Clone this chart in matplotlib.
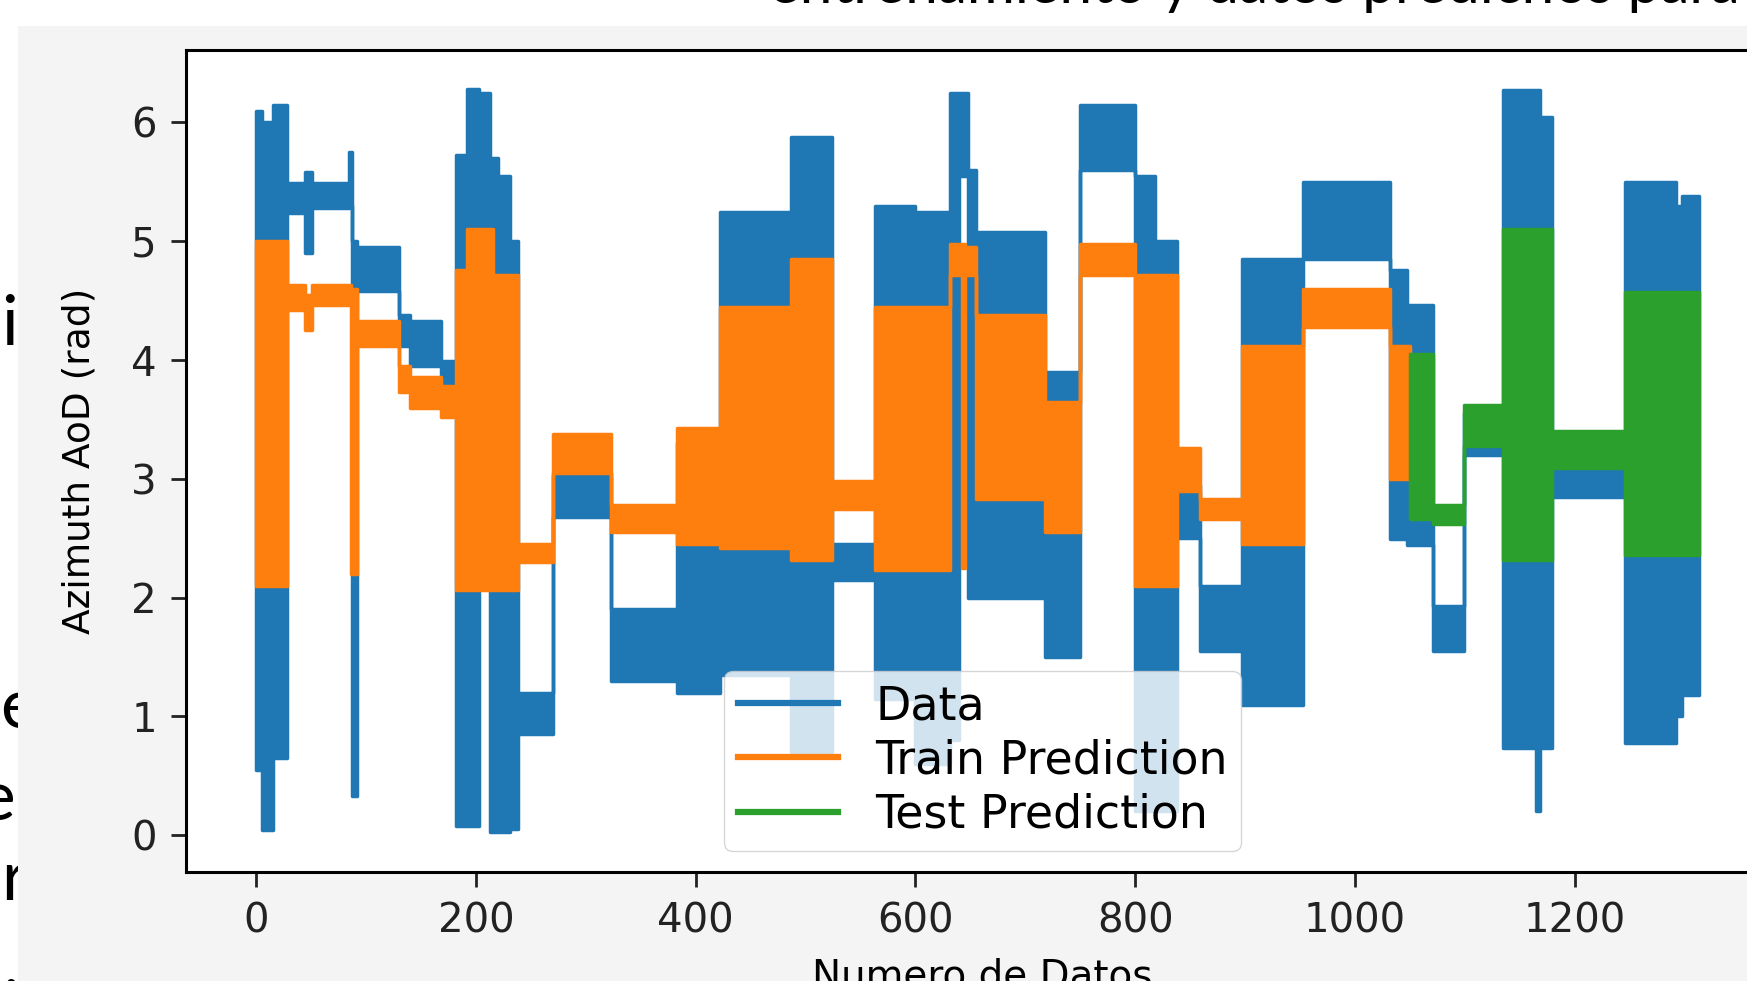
import matplotlib
matplotlib.use("Agg")
import matplotlib.pyplot as plt
from matplotlib.patches import Rectangle

W, H = 1747, 981

# envelopes: segment edges on x, then low / high value of each segment
data_x = [0, 5, 15, 28, 44, 51, 84, 87, 92, 130, 140, 168, 182, 192, 203, 213, 220, 231, 238, 270,
          323, 383, 422, 487, 524, 563, 600, 631, 640, 648, 655, 718, 750, 800, 818, 838, 859, 897,
          953, 1032, 1047, 1071, 1099, 1135, 1165, 1168, 1179, 1246, 1292, 1298, 1313]
data_lo = [0.55, 0.04, 0.65, 5.24, 4.90, 5.28, 5.30, 0.33, 4.58, 4.12, 3.95, 3.78, 0.08, 0.08, 2.40,
           0.03, 0.03, 0.05, 0.85, 2.68, 1.30, 1.20, 1.35, 0.70, 2.15, 1.15, 0.60, 0.80, 5.55, 2.00,
           2.00, 1.50, 5.60, 0.20, 0.20, 2.50, 1.55, 1.10, 4.85, 2.49, 2.44, 1.55, 3.20, 0.73, 0.20,
           0.73, 2.85, 0.78, 1.00, 1.18]
data_hi = [6.10, 6.00, 6.15, 5.49, 5.58, 5.49, 5.75, 5.00, 4.95, 4.38, 4.33, 3.99, 5.73, 6.28, 6.25,
           5.70, 5.55, 5.00, 1.20, 3.02, 1.90, 3.30, 5.25, 5.88, 2.45, 5.30, 5.25, 6.25, 6.25, 5.60,
           5.08, 3.90, 6.15, 5.55, 5.00, 2.95, 2.10, 4.85, 5.50, 4.76, 4.46, 1.93, 3.55, 6.27, 6.27,
           6.05, 3.35, 5.50, 5.30, 5.38]

train_x = [0, 28, 44, 51, 86, 92, 130, 140, 168, 182, 192, 215, 238, 270, 323, 383, 422, 487, 524,
           563, 631, 642, 645, 655, 718, 750, 800, 838, 859, 897, 953, 1032, 1050]
train_lo = [2.10, 4.42, 4.25, 4.46, 2.20, 4.12, 3.73, 3.60, 3.52, 2.06, 2.06, 2.06, 2.30, 3.05, 2.55,
            2.45, 2.42, 2.32, 2.75, 2.23, 4.72, 2.25, 4.72, 2.83, 2.55, 4.72, 2.10, 2.90, 2.66, 2.45,
            4.28, 3.00]
train_hi = [5.00, 4.63, 4.55, 4.63, 4.60, 4.33, 3.95, 3.86, 3.78, 4.76, 5.10, 4.72, 2.45, 3.38, 2.78,
            3.43, 4.45, 4.85, 2.98, 4.45, 4.98, 4.98, 4.95, 4.38, 3.65, 4.98, 4.72, 3.26, 2.83, 4.12,
            4.60, 4.12]

test_x = [1050, 1071, 1099, 1135, 1179, 1246, 1313]
test_lo = [2.66, 2.62, 3.28, 2.32, 3.09, 2.36]
test_hi = [4.05, 2.78, 3.62, 5.10, 3.40, 4.57]

labels = ["Data", "Train Prediction", "Test Prediction"]
colors = ["#1f77b4", "#ff7f0e", "#2ca02c"]

fig = plt.figure(figsize=(W / 100, H / 100), dpi=100)
fig.patch.set_facecolor("white")

# slide text behind the pasted picture
slide_font = ["Lato", "DejaVu Sans"]
fig.text(769 / W, 1 - 3 / H, "entrenamiento y datos predichos para", fontsize=42,
         family=slide_font, va="baseline", ha="left", zorder=-3)
for ch, xp, yb in [("i", 1, 345), ("e", 0, 728), ("e", -22, 820), ("r", 1, 900), ("i", 2, 1030)]:
    fig.text(xp / W, 1 - yb / H, ch, fontsize=50, family=slide_font, va="baseline",
             ha="left", zorder=-3)

# the pasted chart picture
fig.patches.append(Rectangle((18 / W, 0), 1, 1 - 26 / H, transform=fig.transFigure,
                             facecolor="#f4f4f4", edgecolor="none", zorder=-1))

ax = fig.add_axes([186 / W, 109 / H, (1779 - 186) / W, (872 - 50) / H])
ax.set_facecolor("white")

for xs, lo, hi, c in [(data_x, data_lo, data_hi, colors[0]),
                      (train_x, train_lo, train_hi, colors[1]),
                      (test_x, test_lo, test_hi, colors[2])]:
    ax.fill_between(xs, lo + [lo[-1]], hi + [hi[-1]], step="post",
                    facecolor=c, edgecolor=c, linewidth=2.5)

handles = [ax.plot([], [], color=c, lw=4.5, label=l)[0] for c, l in zip(colors, labels)]

ax.set_xlim(-64, 1386)
ax.set_ylim(-0.31, 6.61)
ax.set_xticks([0, 200, 400, 600, 800, 1000, 1200])
ax.set_yticks(range(7))
ax.tick_params(labelsize=29, length=11, width=2, pad=10, colors="#222222")
for s in ax.spines.values():
    s.set_linewidth(2.2)
ax.set_xlabel("Numero de Datos", fontsize=28, labelpad=12)
ax.set_ylabel("Azimuth AoD (rad)", fontsize=27, labelpad=24)

ax.legend(handles=handles, loc="lower center", fontsize=33, framealpha=0.8,
          handlelength=2.2, labelspacing=0.2, borderpad=0.3, borderaxespad=0.45,
          edgecolor="0.8")

fig.savefig("out.png", dpi=100, facecolor=fig.get_facecolor())
